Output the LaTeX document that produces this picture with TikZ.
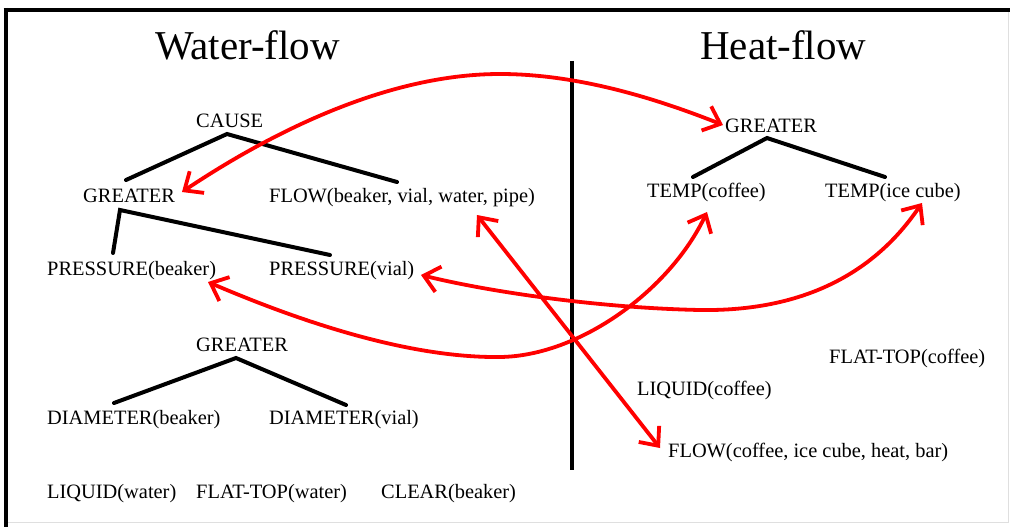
\documentclass[tikz,border=0pt]{standalone}
\usepackage{fontspec}
\setmainfont{Liberation Serif}
\usetikzlibrary{arrows.meta}
\begin{document}
\begin{tikzpicture}[x=1pt,y=-1pt,
  lbl/.style={anchor=base west, inner sep=0pt, font=\fontsize{20.4}{24}\selectfont},
  ttl/.style={anchor=base west, inner sep=0pt, font=\fontsize{41}{48}\selectfont},
  treeline/.style={line width=4pt, black, line cap=round},
  frameline/.style={line width=4pt, black},
  link/.style={red, line width=3.8pt,
    {Straight Barb[length=15pt,width=26pt]}-{Straight Barb[length=15pt,width=26pt]}}]
\useasboundingbox (0,0) rectangle (1010,527);
\fill[white] (0,0) rectangle (1010,527);
% frame
\draw[gray!25, line width=1pt] (1008,10) -- (1008,522) -- (6,522);
\draw[frameline] (3.5,10) -- (1010,10);
\draw[frameline] (5.5,8) -- (5.5,527);
% divider
\draw[line width=4pt] (572,61) -- (572,470);

% titles
\node[ttl] (tW) at (155,60) {Water-flow};
\node[ttl] (tH) at (700,60) {Heat-flow};

% left labels
\node[lbl] (cause) at (196,127) {CAUSE};
\node[lbl] (gl) at (83,202) {GREATER};
\node[lbl] (flw) at (269,202) {FLOW(beaker, vial, water, pipe)};
\node[lbl] (pb) at (47,275) {PRESSURE(beaker)};
\node[lbl] (pv) at (269,275) {PRESSURE(vial)};
\node[lbl] (g2) at (196,351) {GREATER};
\node[lbl] (db) at (47,424) {DIAMETER(beaker)};
\node[lbl] (dv) at (269,424) {DIAMETER(vial)};
\node[lbl] (lw) at (47,498) {LIQUID(water)};
\node[lbl] (fw) at (196,498) {FLAT-TOP(water)};
\node[lbl] (cb) at (381,498) {CLEAR(beaker)};

% right labels
\node[lbl] (gr) at (725,132) {GREATER};
\node[lbl] (tc) at (647,197) {TEMP(coffee)};
\node[lbl] (ti) at (825,197) {TEMP(ice cube)};
\node[lbl] (ftc) at (829,363) {FLAT-TOP(coffee)};
\node[lbl] (lc) at (637,395) {LIQUID(coffee)};
\node[lbl] (fc) at (668,457) {FLOW(coffee, ice cube, heat, bar)};

% tree coordinates
\coordinate (a1) at (227,134); \coordinate (a1l) at (126,180); \coordinate (a1r) at (397,182);
\coordinate (a2) at (120,210); \coordinate (a2l) at (113,253); \coordinate (a2r) at (330,255);
\coordinate (a3) at (236,358); \coordinate (a3l) at (114,403); \coordinate (a3r) at (346,405);
\coordinate (a4) at (767,138); \coordinate (a4l) at (693,177); \coordinate (a4r) at (885,177);
\draw[treeline] (a1l) -- (a1) -- (a1r);
\draw[treeline] (a2l) -- (a2) -- (a2r);
\draw[treeline] (a3l) -- (a3) -- (a3r);
\draw[treeline] (a4l) -- (a4) -- (a4r);

% link end points
\coordinate (eGl) at (182,192);
\coordinate (eGr) at (723,125);
\coordinate (eFw) at (477,215);
\coordinate (eFc) at (660,448);
\coordinate (ePb) at (208,282);
\coordinate (eTc) at (707,212);
\coordinate (ePv) at (421,275);
\coordinate (eTi) at (922,203);

\draw[link] (eGl) .. controls (260,140) and (380,74) .. (500,74)
  .. controls (580,74) and (660,100) .. (eGr);
\draw[link] (eFw) -- (eFc);
\draw[link] (ePb) .. controls (320,330) and (420,358) .. (500,357)
  .. controls (580,356) and (670,290) .. (eTc);
\draw[link] (ePv) .. controls (490,292) and (600,308) .. (700,310)
  .. controls (830,312) and (890,250) .. (eTi);
\end{tikzpicture}
\end{document}
